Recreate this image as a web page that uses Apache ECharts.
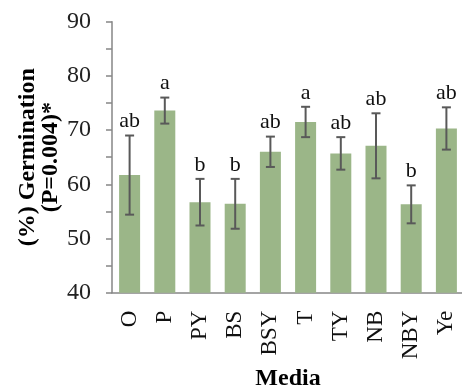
<!DOCTYPE html>
<html><head><meta charset="utf-8">
<script src="https://cdn.jsdelivr.net/npm/echarts@6/dist/echarts.min.js"></script>
<style>html,body{margin:0;padding:0;background:#fff}#c{width:462px;height:388px}</style>
</head><body><div id="c"></div>
<script>
var categories = ['O','P','PY','BS','BSY','T','TY','NB','NBY','Ye'];
var means = [61.7, 73.6, 56.7, 56.4, 66.0, 71.5, 65.7, 67.1, 56.3, 70.3];
var errors = [7.3, 2.4, 4.3, 4.6, 2.8, 2.8, 3.0, 6.0, 3.5, 3.9];
var letters = ['ab','a','b','b','ab','a','ab','ab','b','ab'];
var yTicks = [40, 50, 60, 70, 80, 90];

var font = '"Liberation Serif", "DejaVu Serif", serif';
var chart = echarts.init(document.getElementById('c'), null, {renderer:'canvas'});
var errData = categories.map(function(c,i){ return [i, means[i]-errors[i], means[i]+errors[i], letters[i]]; });
chart.setOption({
  animation:false,
  grid:{left:112, top:21.7, width:352, height:271, containLabel:false, outerBoundsMode:'none'},
  xAxis:{type:'category', data:categories, boundaryGap:true,
    name:'Media', nameLocation:'middle', nameGap:64,
    nameTextStyle:{fontFamily:font, fontWeight:'bold', fontSize:24, color:'#000'},
    axisLine:{lineStyle:{color:'#868686', width:1.5}},
    axisTick:{alignWithLabel:false, length:5, lineStyle:{color:'#868686', width:1.5}},
    axisLabel:{rotate:90, fontFamily:font, fontSize:23, color:'#111', margin:18, interval:0}},
  yAxis:{type:'value', min:yTicks[0], max:yTicks[yTicks.length-1], interval:5,
    name:'(%) Germination\n(P=0.004)*', nameLocation:'middle', nameGap:50, nameRotate:90,
    nameMoveOverlap:false,
    nameTextStyle:{fontFamily:font, fontWeight:'bold', fontSize:24, color:'#000', lineHeight:23},
    axisLine:{show:true, lineStyle:{color:'#868686', width:1.5}},
    axisTick:{show:true, length:6, lineStyle:{color:'#868686', width:1.5}},
    splitLine:{show:false},
    axisLabel:{fontFamily:font, fontSize:24, color:'#222', margin:21,
      formatter:function(v){ return yTicks.indexOf(v) >= 0 ? String(v) : ''; }}},
  series:[
    {type:'bar', data:means, barWidth:21, itemStyle:{color:'#9bb688'}},
    {type:'custom', data:errData, z:10,
      renderItem:function(params, api){
        var x = api.value(0);
        var lo = api.coord([x, api.value(1)]);
        var hi = api.coord([x, api.value(2)]);
        var cx = lo[0], w = 4.5;
        var st = {stroke:'#595959', lineWidth:2};
        return {type:'group', children:[
          {type:'line', shape:{x1:cx, y1:lo[1], x2:cx, y2:hi[1]}, style:st},
          {type:'line', shape:{x1:cx-w, y1:lo[1], x2:cx+w, y2:lo[1]}, style:st},
          {type:'line', shape:{x1:cx-w, y1:hi[1], x2:cx+w, y2:hi[1]}, style:st},
          {type:'text', style:{text:letters[params.dataIndex], x:cx, y:hi[1]-3, textAlign:'center', textVerticalAlign:'bottom', font:'22px '+font, fill:'#111'}}
        ]};
      }}
  ]
});
</script></body></html>
